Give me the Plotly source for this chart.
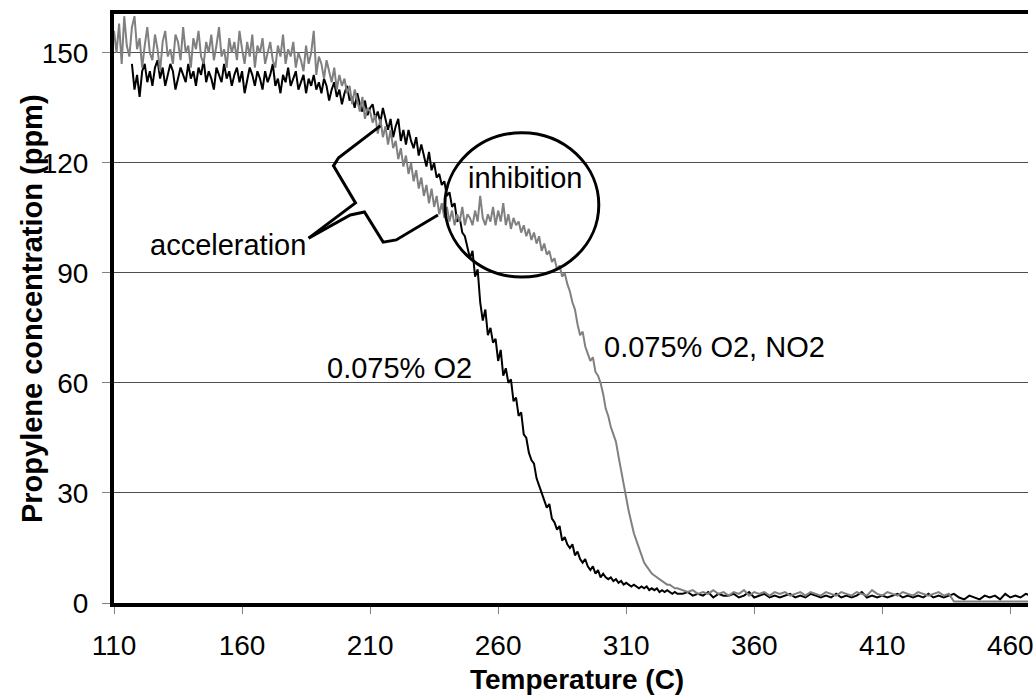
import plotly.graph_objects as go

# ---------------- data ----------------
# Temperature grid (C) of the two runs
temp_o2 = list(range(117, 331)) + list(range(332, 469, 2))
temp_no2 = list(range(110, 331)) + list(range(332, 469, 2))

# Propylene concentration (ppm), 0.075% O2
ppm_o2 = [
    147, 140, 144, 138, 145, 147, 142, 145, 141, 146,
    148, 143, 146, 141, 144, 147, 145, 140, 143, 146,
    144, 142, 147, 143, 145, 141, 146, 144, 148, 142,
    145, 143, 140, 146, 144, 142, 147, 143, 145, 141,
    144, 146, 142, 145, 139, 143, 146, 144, 141, 145,
    143, 140, 145, 142, 144, 147, 141, 143, 139, 144,
    142, 146, 141, 143, 145, 140, 142, 144, 139, 143,
    141, 144, 140, 142, 139, 143, 141, 137, 140, 142,
    138, 140, 136, 139, 141, 137, 138, 135, 139, 136,
    134, 137, 133, 135, 136, 132, 134, 131, 135, 132,
    129, 132, 127, 130, 132, 126, 129, 125, 129, 126,
    124, 127, 122, 125, 122, 119, 123, 118, 120, 116,
    117, 114, 115, 111, 112, 108, 109, 104, 105, 101,
    100, 97, 94, 96, 89, 91, 82, 77, 80, 73,
    75, 71, 72, 66, 69, 62, 64, 60, 61, 55,
    56, 51, 52, 46, 45, 41, 39, 38, 34, 32,
    30, 28, 26, 27, 23, 22, 20, 21, 17, 18,
    16, 15, 16, 13, 14, 12, 11, 12, 10, 9,
    10, 8, 9, 7, 8, 7, 6.5, 7, 6, 6.5,
    5.5, 6, 5, 5.5, 5, 4.5, 5, 4.5, 4, 4.5,
    4, 4.5, 3.5, 4, 3.5, 4, 3, 3.5, 3, 3.5,
    3, 2.5, 3, 2.5,
    2.5, 3, 2, 2.5, 2, 3, 1.5, 2.5, 2, 2,
    2.5, 1.5, 2, 3, 1.5, 2, 2.5, 1.5, 2, 1.5,
    2, 2.5, 1.5, 2, 1.5, 2.5, 2, 1.5, 2, 1.5,
    2.5, 1.5, 2, 1.5, 2, 3, 1.5, 2, 1.5, 2,
    1.5, 2, 2.5, 1.5, 2, 1.5, 2, 1.5, 2.5, 1.5,
    2, 1.5, 2, 2.5, 1.5, 1, 2, 1.5, 1, 2,
    1.5, 2, 1, 2.5, 1.5, 2, 1.5, 2.5, 2,
]

# Propylene concentration (ppm), 0.075% O2 + NO2
ppm_no2 = [
    156, 150, 158, 147, 160, 152, 149, 157, 160, 151,
    154, 146, 152, 157, 150, 148, 155, 151, 145, 153,
    156, 149, 151, 147, 155, 153, 148, 157, 150, 152,
    146, 154, 151, 156, 149, 147, 153, 150, 155, 148,
    152, 157, 149, 151, 146, 154, 150, 153, 148, 156,
    151, 147, 153, 149, 155, 146, 152, 150, 154, 147,
    150, 153, 148, 146, 152, 149, 155, 147, 151, 149,
    153, 146, 150, 148, 145, 152, 147, 150, 156, 144,
    149, 147, 143, 148, 145, 142, 146, 140, 144, 141,
    143, 139, 141, 136, 140, 137, 134, 138, 132, 135,
    134, 131, 133, 128, 132, 127, 130, 125, 129, 124,
    126, 121, 124, 119, 122, 117, 120, 115, 118, 113,
    116, 111, 114, 109, 113, 108, 111, 106, 109, 105,
    108, 104, 107, 103, 106, 104, 108, 103, 106, 105,
    103, 107, 104, 111, 105, 103, 106, 104, 108, 103,
    107, 104, 109, 103, 106, 102, 105, 103, 104, 101,
    103, 100, 102, 99, 101, 98, 100, 96, 98, 95,
    96, 93, 94, 91, 92, 89, 90, 87, 85, 82,
    80, 76, 73, 74, 70, 68, 66, 67, 63, 62,
    60, 57, 53, 51, 48, 46, 44, 40, 36, 33,
    28, 25, 22, 19, 17, 15, 13, 11, 10, 9,
    8, 7.5, 7, 6.5, 6, 5.5, 5, 5, 4.5, 4,
    4,
    3.5, 3, 3.5, 2.5, 3, 2.5, 3.5, 2.5, 3, 2,
    3, 2.5, 3.5, 2, 3, 2.5, 3, 2, 3, 2.5,
    3, 2, 2.5, 3, 2, 3, 2.5, 2, 3, 2.5,
    2, 3, 2.5, 2, 3, 2.5, 2, 3.5, 2.5, 2,
    3, 2.5, 2, 3, 2.5, 2, 3, 2.5, 2, 2.5,
    3, 2, 2.5, 0.4, 0.4, 0.4, 0.4, 0.4, 0.4, 0.4,
    0.4, 0.4, 0.4, 0.4, 0.4, 0.4, 0.4, 0.4, 0.4,
]

x_ticks = [110, 160, 210, 260, 310, 360, 410, 460]
y_ticks = [0, 30, 60, 90, 120, 150]

# callout ("acceleration") outline, in data units
callout_a_x = [186.0, 204.3, 195.7, 197.7, 214.0]
callout_a_y = [99.5, 109.1, 119.2, 121.4, 130.1]
callout_b_x = [186.0, 202.3, 207.8, 215.1, 220.2, 236.5]
callout_b_y = [99.5, 105.8, 106.6, 98.4, 99.0, 105.8]

# "inhibition" ellipse bounds
circle_x = [239.2, 299.3]
circle_y = [88.9, 128.2]

FONT = "Liberation Sans, Arial, sans-serif"

fig = go.Figure()
fig.add_trace(go.Scatter(x=temp_o2, y=ppm_o2, mode="lines",
                         line=dict(color="#000000", width=2), showlegend=False))
fig.add_trace(go.Scatter(x=temp_no2, y=ppm_no2, mode="lines",
                         line=dict(color="#808080", width=2), showlegend=False))
for cx, cy in [(callout_a_x, callout_a_y), (callout_b_x, callout_b_y)]:
    fig.add_trace(go.Scatter(x=cx, y=cy, mode="lines",
                             line=dict(color="#000000", width=3), showlegend=False,
                             hoverinfo="skip"))

fig.add_shape(type="circle", xref="x", yref="y",
              x0=circle_x[0], x1=circle_x[1], y0=circle_y[0], y1=circle_y[1],
              line=dict(color="#000000", width=3), layer="above")

ann_font = dict(family=FONT, size=29, color="#000000")
fig.add_annotation(x=154.6, y=97.6, text="acceleration", showarrow=False, font=ann_font)
fig.add_annotation(x=270.6, y=115.9, text="inhibition", showarrow=False, font=ann_font)
fig.add_annotation(x=221.3, y=64.1, text="0.075% O2", showarrow=False, font=ann_font)
fig.add_annotation(x=344.3, y=69.8, text="0.075% O2, NO2", showarrow=False, font=ann_font)

# axis titles placed as annotations (paper coordinates)
fig.add_annotation(xref="paper", yref="paper", x=0.5065, y=-0.1307,
                   xanchor="center", yanchor="middle", showarrow=False,
                   text="<b>Temperature (C)</b>",
                   font=dict(family=FONT, size=28, color="#000000"))
fig.add_annotation(xref="paper", yref="paper", x=-0.0902, y=0.5,
                   xanchor="center", yanchor="middle", showarrow=False,
                   textangle=-90, text="<b>Propylene concentration (ppm)</b>",
                   font=dict(family=FONT, size=29, color="#000000"))

fig.update_layout(
    width=1034, height=698,
    margin=dict(l=114, r=0, t=14, b=95),
    paper_bgcolor="white", plot_bgcolor="white",
    font=dict(family=FONT, size=28, color="#000000"),
    showlegend=False,
    xaxis=dict(
        range=[110, 466.9], tickvals=x_ticks, ticktext=[str(v) for v in x_ticks],
        ticks="outside", ticklen=7, tickwidth=1, tickcolor="#808080",
        ticklabelstandoff=7, ticklabeloverflow="allow",
        showline=True, linewidth=4, linecolor="#000000", mirror=True,
        showgrid=False, zeroline=False,
    ),
    yaxis=dict(
        range=[0, 160.6], tickvals=y_ticks, ticktext=[str(v) for v in y_ticks],
        ticks="outside", ticklen=8, tickwidth=1, tickcolor="#808080",
        ticklabelstandoff=8,
        showline=True, linewidth=4, linecolor="#000000", mirror=False,
        showgrid=True, gridcolor="#4d4d4d", gridwidth=1, zeroline=False,
    ),
)

fig.write_html("out.html")
